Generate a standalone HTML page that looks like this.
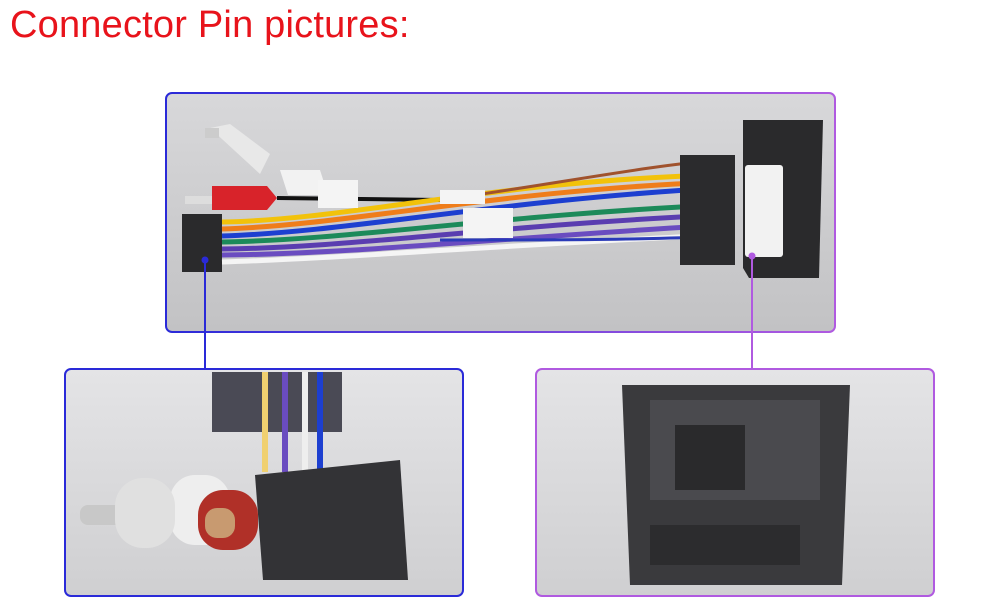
<!DOCTYPE html>
<html><head><meta charset="utf-8"><style>
html,body{margin:0;padding:0;background:#fff;width:1000px;height:616px;overflow:hidden}
.t{position:absolute;left:10px;top:4px;font:38px "Liberation Sans",sans-serif;color:#e8131b;letter-spacing:0.2px}
</style></head><body>
<div class="t">Connector Pin pictures:</div>
<svg width="1000" height="616" style="position:absolute;left:0;top:0" xmlns="http://www.w3.org/2000/svg">
<defs>
<linearGradient id="bd" x1="0" x2="1"><stop offset="0" stop-color="#2a2ad8"/><stop offset="1" stop-color="#b05ae0"/></linearGradient>
<linearGradient id="bg1" x1="0" y1="0" x2="0" y2="1"><stop offset="0" stop-color="#d8d8da"/><stop offset="1" stop-color="#c2c2c4"/></linearGradient>
<linearGradient id="bg2" x1="0" y1="0" x2="0" y2="1"><stop offset="0" stop-color="#e4e4e6"/><stop offset="1" stop-color="#cfcfd1"/></linearGradient>
</defs>
<!-- top panel -->
<rect x="166" y="93" width="669" height="239" rx="6" fill="url(#bg1)" stroke="url(#bd)" stroke-width="2"/>
<!-- RCA -->
<path d="M210 128 l20 -4 l40 30 l-10 20 z" fill="#e8e8e8"/>
<rect x="205" y="128" width="14" height="10" fill="#ccc"/>
<path d="M280 170 l40 0 l8 25 l-40 0 z" fill="#f2f2f2"/>
<path d="M185 196 h30 v8 h-30z" fill="#ddd"/>
<path d="M212 186 h55 l10 12 l-10 12 h-55z" fill="#d8232a"/>
<line x1="277" y1="198" x2="440" y2="200" stroke="#111" stroke-width="4"/>
<!-- left connector -->
<rect x="182" y="214" width="40" height="58" fill="#2a2a2c"/>
<!-- wires -->
<g fill="none" stroke-width="5">
<path d="M222 222 C350 220 500 180 720 175" stroke="#f2c20b"/>
<path d="M222 229 C350 225 500 190 720 182" stroke="#ef7d1a"/>
<path d="M222 236 C350 232 500 200 720 188" stroke="#1d3fd0"/>
<path d="M222 242 C350 240 500 215 720 205" stroke="#1c8a5a"/>
<path d="M222 249 C350 248 500 225 720 215" stroke="#5a3db0"/>
<path d="M222 255 C350 254 500 238 720 225" stroke="#6a4cc0"/>
<path d="M222 262 C350 258 500 245 720 235" stroke="#f5f5f5"/>
<path d="M440 240 C550 240 650 240 720 236" stroke="#2a3ab8" stroke-width="3"/>
<path d="M440 200 C550 185 650 165 720 160" stroke="#a0522d" stroke-width="3"/>
</g>
<rect x="440" y="190" width="45" height="14" fill="#f4f4f4"/>
<rect x="463" y="208" width="50" height="30" fill="#f4f4f4"/>
<rect x="318" y="180" width="40" height="28" fill="#f4f4f4"/>
<!-- right connector -->
<rect x="680" y="155" width="55" height="110" fill="#2b2b2d"/>
<path d="M743 120 h80 l-4 158 h-70 l-6 -10z" fill="#2a2a2c"/>
<rect x="745" y="165" width="38" height="92" rx="3" fill="#f2f2f2"/>
<!-- connector lines -->
<line x1="205" y1="260" x2="205" y2="369" stroke="#2a2ad8" stroke-width="2"/>
<circle cx="205" cy="260" r="3.5" fill="#2a2ad8"/>
<line x1="752" y1="256" x2="752" y2="369" stroke="#b05ae0" stroke-width="2"/>
<circle cx="752" cy="256" r="3.5" fill="#b05ae0"/>
<!-- bottom left -->
<rect x="65" y="369" width="398" height="227" rx="6" fill="url(#bg2)" stroke="#2a2ad8" stroke-width="2"/>
<rect x="212" y="372" width="130" height="60" fill="#4a4a55"/>
<g stroke-width="6" fill="none"><path d="M265 372 v100" stroke="#f0d070"/><path d="M285 372 v100" stroke="#6a4cc0"/><path d="M305 372 v100" stroke="#eee"/><path d="M320 372 v100" stroke="#1d3fd0"/></g>
<path d="M255 475 l145 -15 l8 120 h-145z" fill="#333336"/>
<rect x="170" y="475" width="60" height="70" rx="25" fill="#eee"/>
<rect x="198" y="490" width="60" height="60" rx="25" fill="#b03028"/>
<rect x="80" y="505" width="50" height="20" rx="8" fill="#c8c8c8"/>
<rect x="115" y="478" width="60" height="70" rx="28" fill="#e0e0e0"/>
<rect x="205" y="508" width="30" height="30" rx="12" fill="#c89a70"/>
<!-- bottom right -->
<rect x="536" y="369" width="398" height="227" rx="6" fill="url(#bg2)" stroke="#b05ae0" stroke-width="2"/>
<path d="M622 385 h228 l-8 200 h-212z" fill="#3a3a3d"/>
<rect x="650" y="400" width="170" height="100" fill="#4a4a4e"/>
<rect x="675" y="425" width="70" height="65" fill="#2a2a2c"/>
<rect x="650" y="525" width="150" height="40" fill="#2c2c2e"/>
</svg>
</body></html>
